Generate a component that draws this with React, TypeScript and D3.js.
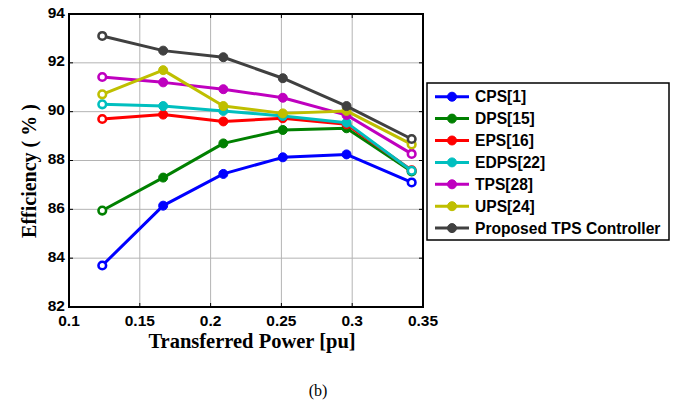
import React from "react";
import * as d3 from "d3";

const xValues = [0.1235, 0.1665, 0.209, 0.251, 0.296, 0.342];
const seriesNames = ["CPS[1]", "DPS[15]", "EPS[16]", "EDPS[22]", "TPS[28]", "UPS[24]", "Proposed TPS Controller"];
const seriesColors = ["#0000ff", "#008000", "#ff0000", "#00bfbf", "#bf00bf", "#bfbf00", "#404040"];
const cps = [83.7, 86.15, 87.45, 88.13, 88.25, 87.1];
const dps = [85.95, 87.3, 88.7, 89.25, 89.32, 87.55];
const eps = [89.7, 89.88, 89.6, 89.73, 89.48, 87.6];
const edps = [90.3, 90.23, 90.03, 89.82, 89.55, 87.58];
const tps = [91.42, 91.2, 90.92, 90.57, 89.86, 88.27];
const ups = [90.71, 91.7, 90.23, 89.93, 90.03, 88.66];
const proposed = [93.1, 92.5, 92.23, 91.37, 90.23, 88.88];
const seriesValues = [cps, dps, eps, edps, tps, ups, proposed];
const xTicks = [0.1, 0.15, 0.2, 0.25, 0.3, 0.35];
const xTickLabels = ["0.1", "0.15", "0.2", "0.25", "0.3", "0.35"];
const yTicks = [82, 84, 86, 88, 90, 92, 94];

export default function App() {
  const W = 693, H = 402;
  const left = 69, right = 423, top = 14, bottom = 307;
  const x = d3.scaleLinear().domain([0.1, 0.35]).range([left, right]);
  const y = d3.scaleLinear().domain([82, 94]).range([bottom, top]);
  const line = d3.line<number>().x((_, i) => x(xValues[i])).y((v) => y(v));
  const tickFont = "'Liberation Sans', Arial, sans-serif";
  const serif = "'Liberation Serif', 'Times New Roman', serif";

  const legX = 427, legY = 83, legW = 242, legH = 157, rowH = 21.9;

  return (
    <svg width={W} height={H} style={{ position: "absolute", left: 0, top: 0, background: "#fff" }}>
      <rect x={0} y={0} width={W} height={H} fill="#fff" />
      {/* grid */}
      {xTicks.slice(1, -1).map((t) => (
        <line key={"gx" + t} x1={x(t)} x2={x(t)} y1={top} y2={bottom} stroke="#b4b4b4" strokeWidth={1} />
      ))}
      {yTicks.slice(1, -1).map((t) => (
        <line key={"gy" + t} x1={left} x2={right} y1={y(t)} y2={y(t)} stroke="#b4b4b4" strokeWidth={1} />
      ))}
      {/* ticks inward */}
      {xTicks.map((t) => (
        <g key={"tx" + t}>
          <line x1={x(t)} x2={x(t)} y1={bottom} y2={bottom - 4} stroke="#000" strokeWidth={1} />
          <line x1={x(t)} x2={x(t)} y1={top} y2={top + 4} stroke="#000" strokeWidth={1} />
        </g>
      ))}
      {yTicks.map((t) => (
        <g key={"ty" + t}>
          <line x1={left} x2={left + 4} y1={y(t)} y2={y(t)} stroke="#000" strokeWidth={1} />
          <line x1={right} x2={right - 4} y1={y(t)} y2={y(t)} stroke="#000" strokeWidth={1} />
        </g>
      ))}
      {/* series */}
      {seriesValues.map((vals, si) => (
        <g key={"s" + si}>
          <path d={line(vals) || ""} fill="none" stroke={seriesColors[si]} strokeWidth={3} strokeLinejoin="round" />
          {vals.map((v, i) => {
            const hollow = i === 0 || i === vals.length - 1;
            return (
              <circle
                key={i}
                cx={x(xValues[i])}
                cy={y(v)}
                r={hollow ? 3.8 : 4.5}
                fill={hollow ? "#fff" : seriesColors[si]}
                stroke={seriesColors[si]}
                strokeWidth={hollow ? 2.6 : 1}
              />
            );
          })}
        </g>
      ))}
      {/* axes box */}
      <rect x={left} y={top} width={right - left} height={bottom - top} fill="none" stroke="#000" strokeWidth={2} />
      {/* tick labels */}
      {yTicks.map((t) => (
        <text key={"ly" + t} x={left - 4} y={y(t) + 3.5} textAnchor="end" fontFamily={tickFont} fontWeight="bold" fontSize={15.5} fill="#000">
          {t}
        </text>
      ))}
      {xTicks.map((t, i) => (
        <text key={"lx" + t} x={x(t)} y={bottom + 19} textAnchor="middle" fontFamily={tickFont} fontWeight="bold" fontSize={15.5} fill="#000">
          {xTickLabels[i]}
        </text>
      ))}
      {/* axis titles */}
      <text x={252} y={348} textAnchor="middle" fontFamily={serif} fontWeight="bold" fontSize={20.5} fill="#000">
        Transferred Power [pu]
      </text>
      <text
        transform={`translate(36, 171) rotate(-90)`}
        textAnchor="middle"
        fontFamily={serif}
        fontWeight="bold"
        fontSize={20}
        fill="#000"
      >
        Efficiency ( % )
      </text>
      <text x={318} y={396} textAnchor="middle" fontFamily={serif} fontSize={16} fill="#000">
        (b)
      </text>
      {/* legend */}
      <rect x={legX} y={legY} width={legW} height={legH} fill="#fff" stroke="#000" strokeWidth={1.5} />
      {seriesNames.map((name, i) => {
        const cy = legY + 13.7 + i * rowH;
        return (
          <g key={"leg" + i}>
            <line x1={435} x2={469} y1={cy} y2={cy} stroke={seriesColors[i]} strokeWidth={3} />
            <circle cx={452} cy={cy} r={4.5} fill={seriesColors[i]} stroke={seriesColors[i]} strokeWidth={1} />
            <text x={475} y={cy + 5.5} fontFamily={tickFont} fontWeight="bold" fontSize={15.6} fill="#000">
              {name}
            </text>
          </g>
        );
      })}
    </svg>
  );
}
